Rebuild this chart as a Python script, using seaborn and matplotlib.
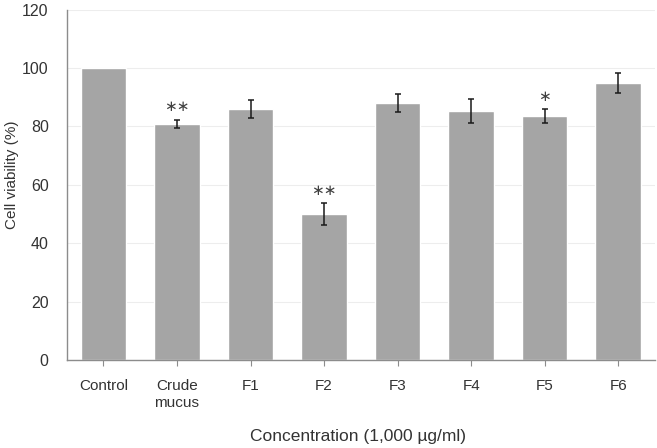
import matplotlib
matplotlib.use("Agg")
import matplotlib.pyplot as plt
import seaborn as sns
import pandas as pd
import numpy as np

categories = ["Control", "Crude\nmucus", "F1", "F2", "F3", "F4", "F5", "F6"]
viability = [100, 80.8, 86.0, 50.0, 88.0, 85.3, 83.5, 94.8]
errors = [0, 1.4, 3.0, 3.6, 3.1, 4.0, 2.3, 3.4]
significance = ["", "**", "", "**", "", "", "*", ""]

sns.set_theme(style="white")
plt.rcParams['font.family'] = ['Liberation Sans', 'DejaVu Sans']

df = pd.DataFrame({"cat": categories, "val": viability})

fig = plt.figure(figsize=(6.57, 4.48), dpi=100)
ax = fig.add_axes([66.7/657, 1 - 360/448, (655 - 66.7)/657, (360 - 9.6)/448])

sns.barplot(data=df, x="cat", y="val", color="#A5A5A5", saturation=1,
            width=0.62, ax=ax, zorder=2, errorbar=None)

xs = np.arange(len(categories))
for x, v, e in zip(xs, viability, errors):
    if e > 0:
        ax.errorbar(x, v, yerr=e, fmt="none", ecolor="#1a1a1a", elinewidth=1.1,
                    capsize=2.5, capthick=1.1, zorder=3)

for x, v, e, s in zip(xs, viability, errors, significance):
    if s:
        ax.text(x, v + e + 2.0, s.replace("*", "\u2217"), ha="center", va="bottom",
                fontsize=11, color="#404040", family=['DejaVu Sans'])

ax.set_ylim(0, 120)
ax.set_xlim(-0.5, 7.5)
ax.set_yticks([0, 20, 40, 60, 80, 100, 120])
ax.yaxis.grid(True, color="#EDEDED", linewidth=0.8, zorder=0)
ax.set_axisbelow(True)

for side in ["top", "right"]:
    ax.spines[side].set_visible(False)
for side in ["left", "bottom"]:
    ax.spines[side].set_color("#8C8C8C")
    ax.spines[side].set_linewidth(1.0)

ax.tick_params(axis="y", length=0, labelsize=11.5, labelcolor="#333333", pad=13)
ax.tick_params(axis="x", length=4, width=0.8, color="#8C8C8C", direction="out",
               labelsize=11, labelcolor="#333333", pad=10, bottom=True)

ax.set_xlabel("Concentration (1,000 \u00b5g/ml)", fontsize=12.5, color="#333333")
ax.set_ylabel("Cell viability (%)", fontsize=11, color="#333333")
ax.xaxis.set_label_coords((358 - 66.7) / 588.3, (360 - 436) / 350.4)
ax.yaxis.set_label_coords((12 - 66.7) / 588.3, (360 - 175) / 350.4)
ax.xaxis.label.set_va("center")
ax.yaxis.label.set_va("center")

fig.savefig("out.png", dpi=100)
